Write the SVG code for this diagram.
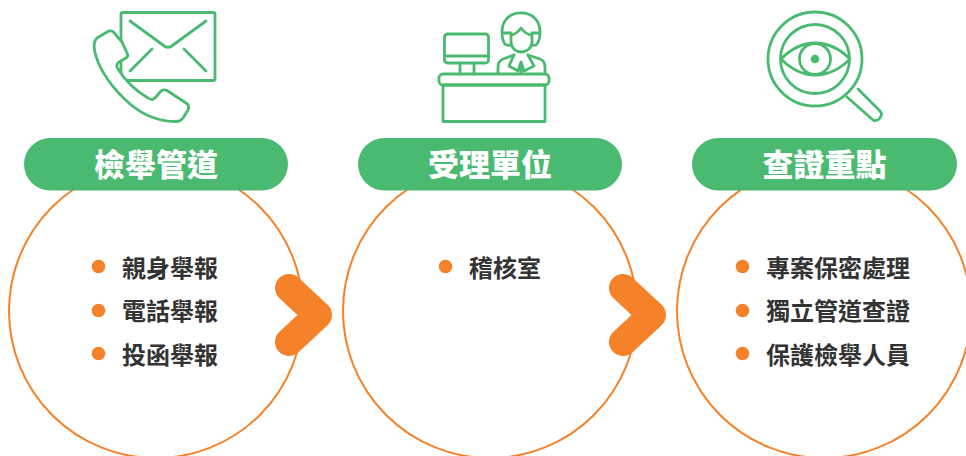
<svg xmlns="http://www.w3.org/2000/svg" width="966" height="456" viewBox="0 0 966 456">
<style>
.ring{fill:#fff;stroke:#f58128;stroke-width:2}
.pill{fill:#4aba70}
.title{font:900 31px "Noto Sans CJK TC","Noto Sans CJK JP",sans-serif;fill:#fff;text-anchor:middle}
.item{font:700 24px "Noto Sans CJK TC","Noto Sans CJK JP",sans-serif;fill:#333}
.dot{fill:#f58128}
.ico{fill:none;stroke:#4aba70;stroke-width:2.8;stroke-linecap:round;stroke-linejoin:round}
.chev{fill:none;stroke:#f58128;stroke-width:28;stroke-linecap:round;stroke-linejoin:round}
</style>
<g id="node1">
<circle class="ring" cx="156" cy="311" r="147"/>
<rect class="pill" x="24" y="138" width="264" height="52.5" rx="26.2"/>
<text class="title" x="156" y="176">檢舉管道</text>
<circle class="dot" cx="98.500" cy="266.500" r="6.800"/><text class="item" x="122" y="277">親身舉報</text>
<circle class="dot" cx="98.500" cy="310.500" r="6.800"/><text class="item" x="122" y="320">電話舉報</text>
<circle class="dot" cx="98.500" cy="353.500" r="6.800"/><text class="item" x="122" y="364">投函舉報</text>
<g class="ico">
<rect x="121" y="12.500" width="94" height="68" rx="2"/>
<path d="M130 21L165 46.500Q168 48 171 46.500L206 21M152 49L130 71M184 49L206 71"/>
<path fill="#fff" d="M122 42L113 31.500Q110 30 107 32L97 38Q93 42 94.500 50C98 70 114 90 130 104C142 114 158 122 177 121.500Q181 121 183 118L188 110Q190 105 186 103L167 90.500Q164 89 161 91L155 98Q152 101 148 98C136 91 126 82 118 69Q115 65 119 62L126 58Q129 56 127 53Z"/>
</g>
</g>
<g id="node2">
<circle class="ring" cx="490" cy="311" r="147"/>
<rect class="pill" x="358" y="138" width="264" height="52.5" rx="26.2"/>
<text class="title" x="490" y="176">受理單位</text>
<circle class="dot" cx="445.500" cy="266.500" r="6.800"/><text class="item" x="469" y="277">稽核室</text>
<g class="ico">
<rect x="444.500" y="34" width="44" height="29" rx="3"/>
<path d="M444.500 56H488.500M460 63V74M474 63V74"/>
<rect x="439" y="74" width="110" height="11" rx="4"/>
<rect x="443" y="85" width="102" height="36.500"/>
<path d="M498 73V67Q498 61 503 59L514 55M545 73V67Q545 61 540 59L528 55"/>
<path d="M514 55L509 66L518 71L521 62L524 71L534 66L528 55M521 64V73"/>
<path d="M511 35V42C511 48 516 52 521 52C527 52 532 48 532 42V35C528 35 524 32 521 28C518 32 515 35 511 35Z"/>
<path d="M505 44Q502 40 502 32C502 20 510 12.800 521 12.800C532 12.800 540 20 540 32Q540 40 537 44Q535 46 532 45M505 44Q507 46 511 45"/>
<path d="M503 33H511M532 33H539"/>
</g>
</g>
<g id="node3">
<circle class="ring" cx="824" cy="311" r="147"/>
<rect class="pill" x="692" y="138" width="265" height="52.5" rx="26.2"/>
<text class="title" x="824.500" y="176">查證重點</text>
<circle class="dot" cx="742.500" cy="266.500" r="6.800"/><text class="item" x="766" y="277">專案保密處理</text>
<circle class="dot" cx="742.500" cy="310.500" r="6.800"/><text class="item" x="766" y="320">獨立管道查證</text>
<circle class="dot" cx="742.500" cy="353.500" r="6.800"/><text class="item" x="766" y="364">保護檢舉人員</text>
<g class="ico">
<circle cx="815" cy="59" r="47"/>
<circle cx="815" cy="59" r="34.500"/>
<circle cx="815" cy="59" r="15.500"/>
<path d="M781 59Q797 43 815 43Q834 43 850 59Q834 75 815 75Q797 75 781 59Z"/>
<path d="M847 97L873 120Q877 122 880 118Q883 114 880 111L858 89"/>
</g>
<circle cx="815" cy="59" r="4.300" fill="#4aba70"/>
</g>
<g id="connectors">
<path class="chev" d="M289 288L318 315L289 342"/>
<path class="chev" d="M623 288L652 315L623 342"/>
</g>
</svg>
